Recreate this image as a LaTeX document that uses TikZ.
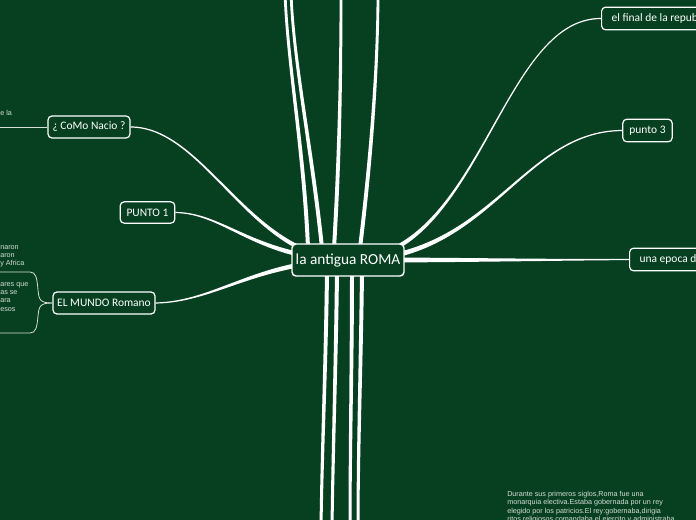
\documentclass[tikz,border=0pt]{standalone}
\usepackage{fontspec}
\setmainfont{Carlito}
\newfontfamily\notefont{Liberation Sans}
\usetikzlibrary{calc}

\definecolor{mapgreen}{RGB}{7,64,32}
\definecolor{notegray}{RGB}{214,222,214}

\pgfdeclarelayer{back}
\pgfdeclarelayer{links}
\pgfsetlayers{back,links,main}

\tikzset{
  topic/.style={draw=white, line width=0.9pt, rounded corners=3pt, fill=mapgreen,
    text=white, inner sep=0pt, font=\fontsize{8.6}{10}\selectfont},
  central/.style={topic, line width=1.1pt, font=\fontsize{11.5}{13}\selectfont,
    minimum width=84pt, minimum height=24pt},
  note/.style={text=notegray, font=\notefont\fontsize{5.4}{6.3}\selectfont,
    align=left, inner sep=0pt},
  stub/.style={draw=notegray, line width=0.6pt},
}

% tapered branch: from, control 1, control 2, to, half width at start, half width at end
\newcommand\mapbranch[6]{%
  \fill[white] ($(#1)+(#5)$) .. controls ($(#2)+(#5)$) and ($(#3)+(#6)$) .. ($(#4)+(#6)$)
    -- ($(#4)-(#6)$) .. controls ($(#3)-(#6)$) and ($(#2)-(#5)$) .. ($(#1)-(#5)$) -- cycle;}

\begin{document}
\begin{tikzpicture}[x=0.75pt, y=-0.75pt]
  \useasboundingbox (0,0) rectangle (696,520);
  \begin{pgfonlayer}{back}
    \fill[mapgreen] (0,0) rectangle (696,520);
  \end{pgfonlayer}

  % topics
  \node[central] (root) at (348,260) {la antigua ROMA};
  \node[topic, minimum width=61.5pt, minimum height=16.5pt] (como) at (89,127) {¿ CoMo Nacio ?};
  \node[topic, minimum width=41pt, minimum height=16pt] (punto1) at (147.5,212.5) {PUNTO 1};
  \node[topic, minimum width=76.5pt, minimum height=16.5pt] (mundo) at (104,303) {EL MUNDO Romano};
  \node[topic, minimum width=37pt, minimum height=17pt] (punto3) at (647.5,130.5) {punto 3};
  \node[topic, anchor=west, inner xsep=7.5pt, minimum height=17pt] (final) at (601,18.5) {el final de la republica};
  \node[topic, anchor=west, inner xsep=7.5pt, minimum height=17pt] (epoca) at (629,259.5) {una epoca de};

  % ends outside the page
  \coordinate (up1) at (285,-8);
  \coordinate (up2) at (291,-8);
  \coordinate (up3) at (341,-8);
  \coordinate (up4) at (378,-8);
  \coordinate (dn1) at (321,528);
  \coordinate (dn2) at (332,528);
  \coordinate (dn3) at (350,528);
  \coordinate (dn4) at (358,528);
  \coordinate (rt1) at (308,248);
  \coordinate (rt2) at (322,248);
  \coordinate (rt3) at (334,248);
  \coordinate (rt4) at (360,248);
  \coordinate (rb1) at (327,272);
  \coordinate (rb2) at (337,272);
  \coordinate (rb3) at (352,272);
  \coordinate (rb4) at (362,272);

  \begin{pgfonlayer}{links}
    \mapbranch{root.center}{250,258}{205,127}{como.east}{0,2.6}{0,0.6}
    \mapbranch{root.center}{255,258}{225,213}{punto1.east}{0,2.6}{0,0.6}
    \mapbranch{root.center}{255,262}{215,302}{mundo.east}{0,2.6}{0,0.6}
    \mapbranch{root.center}{480,260}{500,18}{final.west}{0,2.6}{0,0.6}
    \mapbranch{root.center}{490,262}{520,131}{punto3.west}{0,2.6}{0,0.6}
    \mapbranch{root.center}{450,260}{550,260}{epoca.west}{0,2.6}{0,0.6}
    \mapbranch{rt1}{304,150}{287,60}{up1}{2,0}{1.4,0}
    \mapbranch{rt2}{312,150}{293,60}{up2}{2,0}{1.4,0}
    \mapbranch{rt3}{340,150}{341,60}{up3}{2,0}{1.4,0}
    \mapbranch{rt4}{372,150}{378,60}{up4}{2,0}{1.4,0}
    \mapbranch{rb1}{326,360}{322,450}{dn1}{2,0}{1.5,0}
    \mapbranch{rb2}{336,360}{333,450}{dn2}{2,0}{1.5,0}
    \mapbranch{rb3}{352,360}{350,450}{dn3}{2,0}{1.5,0}
    \mapbranch{rb4}{361,360}{358,450}{dn4}{2,0}{1.5,0}
  \end{pgfonlayer}

  % notes cut by the page edge
  \coordinate (edgeA) at (-5,127);
  \coordinate (brtop) at (-5,272);
  \coordinate (brbot) at (-5,333);
  \draw[stub] (como.west) -- (edgeA);
  \draw[stub] (brtop) -- (30,272) .. controls (36,272) and (37,278) .. (38,290)
    .. controls (39,300) and (40,303) .. (mundo.west);
  \draw[stub] (brbot) -- (30,333) .. controls (36,333) and (37,327) .. (38,316)
    .. controls (39,306) and (40,303) .. (mundo.west);
  \node[note, anchor=west] (noteA) at (0,113) {e la};
  \node[note, anchor=north west] (noteB) at (0,245) {naron\\aron\\y Africa};
  \node[note, anchor=north west] (noteC) at (0,282) {ares que\\as se\\ara\\esos};
  \node[note, anchor=north west] (noteD) at (507,491) {Durante sus primeros siglos,Roma fue una\\monarquia electiva.Estaba gobernada por un rey\\elegido por los patricios.El rey:gobernaba,dirigia\\ritos religiosos,comandaba el ejercito y administraba};
\end{tikzpicture}
\end{document}
